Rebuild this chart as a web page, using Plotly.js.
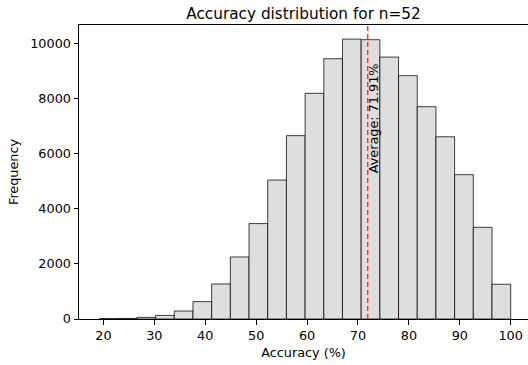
<!DOCTYPE html>
<html>
<head>
<meta charset="utf-8">
<script src="https://cdn.plot.ly/plotly-3.0.1.min.js"></script>
<style>html,body{margin:0;padding:0;background:#fff;}#chart{width:528px;height:365px;}</style>
</head>
<body>
<div id="chart"></div>
<script>
// Histogram of accuracies for n = 52 questions
var binStart = 100 * 10 / 52;   // first bin edge (%)
var binEnd = 100;               // last bin edge (%)
var counts = [15, 20, 60, 130, 290, 630, 1270, 2250, 3460, 5040, 6650, 8185, 9440, 10150, 10130, 9500, 8825, 7700, 6610, 5235, 3325, 1260];
var averageAccuracy = 71.91;
var xTicks = [20, 30, 40, 50, 60, 70, 80, 90, 100];
var yTicks = [0, 2000, 4000, 6000, 8000, 10000];

var nBins = counts.length;
var binWidth = (binEnd - binStart) / nBins;
var binLeft = counts.map(function (_, i) { return binStart + i * binWidth; });

var font = "DejaVu Sans, sans-serif";

var trace = {
  type: 'bar',
  x: binLeft,
  y: counts,
  width: binWidth,
  offset: 0,
  marker: { color: '#dedede', line: { color: 'rgba(0,0,0,0.75)', width: 1 } },
  hoverinfo: 'x+y'
};

var layout = {
  width: 528, height: 365,
  margin: { l: 79, r: 0, t: 25, b: 46 },
  paper_bgcolor: '#fff', plot_bgcolor: '#fff',
  showlegend: false,
  bargap: 0,
  font: { family: font, size: 12.8, color: '#000' },
  title: { text: 'Accuracy distribution for n=52', font: { family: font, size: 15.3, color: '#000' }, x: 0.5, xref: 'paper', xanchor: 'center', y: 1, yref: 'paper', yanchor: 'bottom', pad: { b: 6 } },
  xaxis: {
    range: [15.2, 103.4],
    tickvals: xTicks, ticktext: xTicks.map(String),
    ticks: 'outside', ticklen: 4.5, tickwidth: 1, tickcolor: '#000',
    showline: true, linecolor: '#000', linewidth: 1, mirror: true,
    showgrid: false, zeroline: false,
    tickfont: { family: font, size: 12.8, color: '#000' },
    title: { text: 'Accuracy (%)', font: { family: font, size: 12.8, color: '#000' }, standoff: 6 }
  },
  yaxis: {
    range: [0, 10663],
    tickvals: yTicks, ticktext: yTicks.map(String),
    ticks: 'outside', ticklen: 4.5, tickwidth: 1, tickcolor: '#000',
    showline: true, linecolor: '#000', linewidth: 1,
    showgrid: false, zeroline: false,
    tickfont: { family: font, size: 12.8, color: '#000' },
    title: { text: 'Frequency', font: { family: font, size: 12.8, color: '#000' }, standoff: 8 }
  },
  shapes: [{
    type: 'line', xref: 'x', yref: 'paper',
    x0: averageAccuracy, x1: averageAccuracy, y0: 0, y1: 1,
    line: { color: '#f03a3a', width: 1.5, dash: '5px,3px' }
  }],
  annotations: [{
    xref: 'x', yref: 'y', x: averageAccuracy, y: 5220,
    text: 'Average: ' + averageAccuracy.toFixed(2) + '%',
    textangle: -90, showarrow: false,
    xanchor: 'left', yanchor: 'bottom', xshift: -4,
    font: { family: font, size: 12.8, color: '#000' }
  }]
};

Plotly.newPlot('chart', [trace], layout, { displayModeBar: false, staticPlot: true });
</script>
</body>
</html>
